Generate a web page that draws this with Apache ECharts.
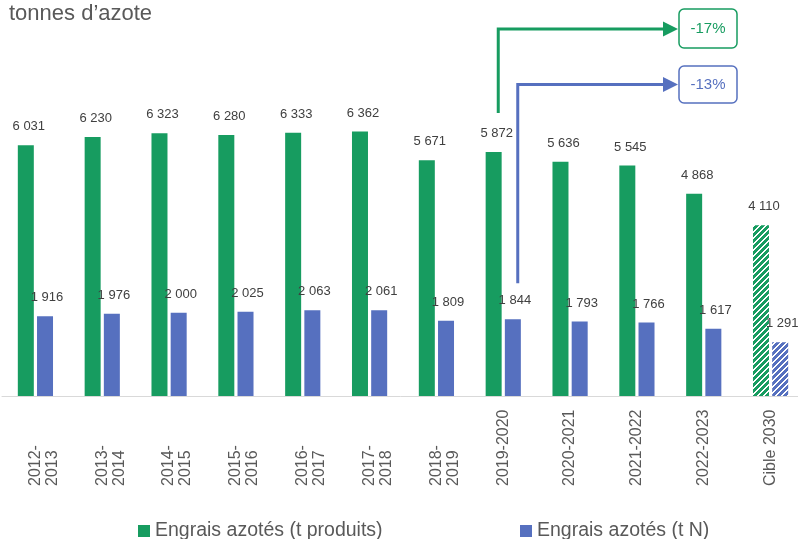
<!DOCTYPE html>
<html><head><meta charset="utf-8">
<script src="https://cdn.jsdelivr.net/npm/echarts@6/dist/echarts.min.js"></script>
<style>html,body{margin:0;padding:0;background:#fff}#c{width:798px;height:539px}</style>
</head><body><div id="c"></div>
<script>
const categories = ['2012-\n2013','2013-\n2014','2014-\n2015','2015-\n2016','2016-\n2017','2017-\n2018','2018-\n2019','2019-2020','2020-2021','2021-2022','2022-2023','Cible 2030'];
const produits = [6031, 6230, 6323, 6280, 6333, 6362, 5671, 5872, 5636, 5545, 4868, 4110];
const azoteN = [1916, 1976, 2000, 2025, 2063, 2061, 1809, 1844, 1793, 1766, 1617, 1291];
const seriesNames = ['Engrais azotés (t produits)', 'Engrais azotés (t N)'];
const titleText = 'tonnes d’azote';
const changeLabels = ['-17%', '-13%'];
const refIndex = 7;

const GREEN = '#179C60';
const BLUE = '#5670BF';
const FONT = '"Liberation Sans", Arial, sans-serif';

function makePattern(color){
  const c = document.createElement('canvas');
  c.width = 6; c.height = 6;
  const x = c.getContext('2d');
  x.fillStyle = color; x.fillRect(0,0,6,6);
  x.fillStyle = '#fff';
  for (let i=0;i<6;i++) for (let j=0;j<6;j++) {
    if (((i + j) % 6) < 2) x.fillRect(i, j, 1, 1);
  }
  return {image: c, repeat: 'repeat'};
}
const fmt = v => String(v).replace(/\B(?=(\d{3})+(?!\d))/g, ' ');

function mkData(arr, color){
  return arr.map((v,i) => i === arr.length-1 ? {value: v, itemStyle: {color: makePattern(color)}} : v);
}

const chart = echarts.init(document.getElementById('c'), null, {renderer: 'canvas'});
const labelBase = {show: true, position: 'top', distance: 12, color: '#404040', fontSize: 13, fontFamily: FONT, formatter: p => fmt(p.value)};
const legendText = {fontSize: 19.5, color: '#595959', fontFamily: FONT};
const LBL_W = 76;
chart.setOption({
  animation: false,
  textStyle: {fontFamily: FONT},
  title: {text: titleText, left: 9, top: 3, padding: 0, textStyle: {fontSize: 22, fontWeight: 'normal', color: '#595959', fontFamily: FONT}},
  grid: {left: 2, right: -6, top: 105, bottom: 143, containLabel: false, outerBoundsMode: 'none'},
  legend: [
    {data: [seriesNames[0]], left: 138, top: 521, padding: 0, itemWidth: 12, itemHeight: 12, icon: 'rect', itemGap: 6, textStyle: legendText},
    {data: [seriesNames[1]], left: 520, top: 521, padding: 0, itemWidth: 12, itemHeight: 12, icon: 'rect', itemGap: 6, textStyle: legendText}
  ],
  xAxis: {
    type: 'category', data: categories,
    axisLine: {lineStyle: {color: '#d9d9d9', width: 1}},
    axisTick: {show: false},
    axisLabel: {interval: 0, rotate: 90, margin: 486 - 396 - LBL_W,
      fontSize: 16, lineHeight: 17, color: '#595959', fontFamily: FONT,
      formatter: v => {
        const lines = v.split('\n');
        if (lines.length > 1) lines.unshift(' ');
        return lines.map(s => '{a|' + s + '}').join('\n');
      },
      rich: {a: {width: LBL_W, align: 'left', fontSize: 16, lineHeight: 17, color: '#595959', fontFamily: FONT}}
    }
  },
  yAxis: {type: 'value', min: 0, max: 7000, show: false, splitLine: {show: false}},
  series: [
    {name: seriesNames[0], type: 'bar', barWidth: 16, barGap: '20%', data: mkData(produits, GREEN),
     itemStyle: {color: GREEN}, label: Object.assign({}, labelBase, {offset: [3,0]})},
    {name: seriesNames[1], type: 'bar', barWidth: 16, barGap: '20%', data: mkData(azoteN, BLUE),
     itemStyle: {color: BLUE}, label: Object.assign({}, labelBase, {offset: [2,0]})}
  ]
});

const center = chart.convertToPixel({xAxisIndex: 0, yAxisIndex: 0}, [refIndex, 0]);
const gTop = chart.convertToPixel({xAxisIndex: 0, yAxisIndex: 0}, [refIndex, produits[refIndex]])[1];
const bTop = chart.convertToPixel({xAxisIndex: 0, yAxisIndex: 0}, [refIndex, azoteN[refIndex]])[1];
const gx = center[0] - 9.5 + 4.5;
const bx = center[0] + 9.5 + 5;
const boxX = 679, boxW = 58;
function arrow(x, yBottom, yLevel, color, boxY, boxH, txt){
  const tip = boxX - 1;
  return [
    {type: 'polyline', shape: {points: [[x, yBottom], [x, yLevel], [tip - 14, yLevel]]},
     style: {stroke: color, lineWidth: 3, fill: null}},
    {type: 'polygon', shape: {points: [[tip - 15, yLevel - 7.5], [tip, yLevel], [tip - 15, yLevel + 7.5]]},
     style: {fill: color}},
    {type: 'rect', shape: {x: boxX, y: boxY, width: boxW, height: boxH, r: 5},
     style: {stroke: color, lineWidth: 1.5, fill: '#fff'}},
    {type: 'text', x: boxX + boxW/2, y: boxY + boxH/2,
     style: {text: txt, fill: color, font: '15px ' + FONT, textAlign: 'center', textVerticalAlign: 'middle'}}
  ];
}
chart.setOption({graphic: [].concat(
  arrow(gx, gTop - 39, 29, GREEN, 9, 39, changeLabels[0]),
  arrow(bx, bTop - 36, 84.5, BLUE, 66, 37, changeLabels[1])
)});
</script></body></html>
